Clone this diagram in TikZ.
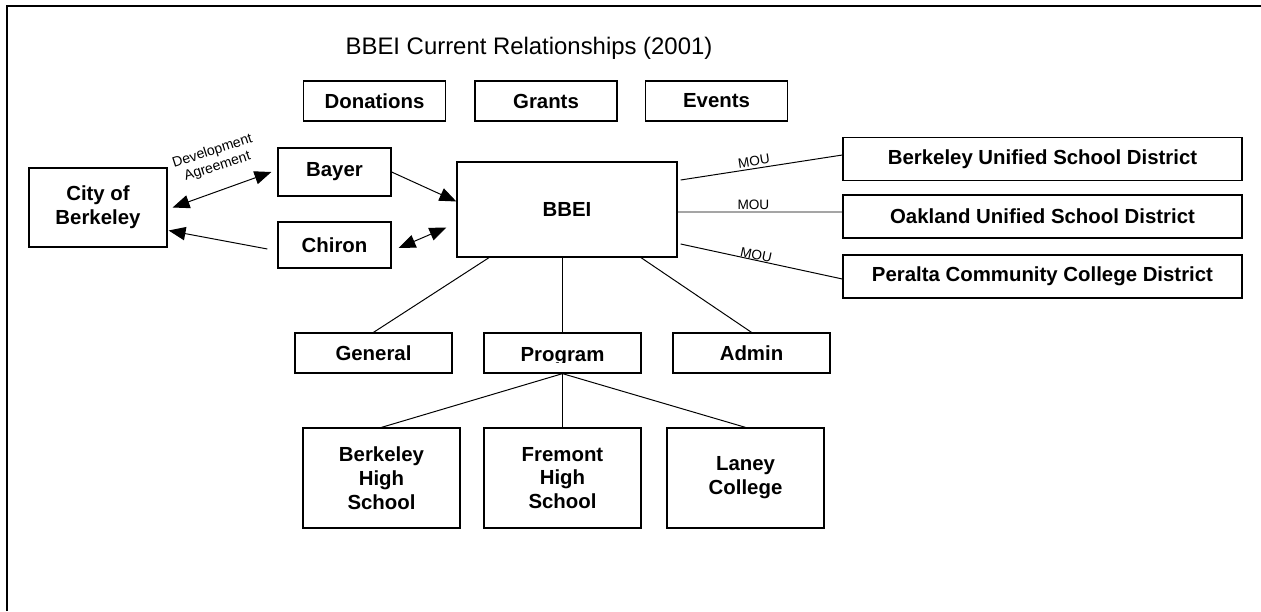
\documentclass[tikz,border=0pt]{standalone}
\usepackage{fontspec}
\setmainfont{Liberation Sans}
\usetikzlibrary{arrows.meta,calc}
\tikzset{
  bx/.style 2 args={draw, line width=0.9pt, inner sep=0pt, align=center,
    minimum width=#1*0.025cm, minimum height=#2*0.025cm,
    font=\bfseries\fontsize{14.5}{17}\selectfont},
  lbl/.style={inner sep=1.5pt, align=center, font=\fontsize{9.7}{10}\selectfont},
  link/.style={line width=0.7pt},
  arr/.style={link, -{Triangle[length=12pt,width=9.5pt]}},
  darr/.style={link, {Triangle[length=12pt,width=9.5pt]}-{Triangle[length=12pt,width=9.5pt]}},
}
\begin{document}
\begin{tikzpicture}[x=0.025cm, y=-0.025cm]
  \useasboundingbox (0,0) rectangle (1261,611);
  \draw[line width=2pt] (7,611) -- (7,6) -- (1261,6);
  \node[font=\fontsize{17}{20}\selectfont] (title) at (529,48) {BBEI Current Relationships (2001)};
  \foreach \name/\x/\txt in {donations/374.5/Donations, grants/546/Grants, events/716.5/Events}
    \node[bx={142}{40}] (\name) at (\x,101) {\txt};

  \node[bx={138}{79}] (city) at (98,207.5) {City of\\Berkeley};
  \node[bx={113}{48}] (bayer) at (334.5,172) {Bayer};
  \node[bx={113}{46}] (chiron) at (334.5,245) {Chiron};
  \node[bx={220}{95}] (bbei) at (567,209.5) {BBEI};
  \foreach \name/\y/\txt in {busd/159/Berkeley Unified School District,
      ousd/216.5/Oakland Unified School District,
      pccd/276.5/Peralta Community College District}
    \node[bx={399}{43}] (\name) at (1042.5,\y) {\txt};

  \node[bx={157}{40}] (general) at (373.5,353) {General};
  \node[bx={157}{40}] (program) at (562.5,353) {};
  \node[bx={157}{40}] (admin) at (751.5,353) {Admin};
  % text of the program box is cut just under its baseline
  \begin{scope}
    \clip ([shift={(1pt,-1pt)}]program.north west) rectangle ([yshift=7.8pt]program.south east);
    \node[bx={157}{40}, draw=none, text depth=0pt] at ($(program)+(0,1.5)$) {Program};
  \end{scope}
  \node[bx={157}{100}] (bhs) at (381.5,478) {Berkeley\\High\\School};
  \node[bx={157}{100}] (fhs) at (562.5,478) {Fremont\\High\\School};
  \node[bx={157}{100}] (laney) at (745.5,478) {Laney\\College};

  \draw[arr] (bayer.east) -- ($(bbei.west)+(0,-8)$);
  \draw[darr] ($(city.east)+(5,0)$) -- ($(bayer.west)+(-6,0)$);
  \node[lbl, rotate=18, font=\fontsize{10}{11.5}\selectfont] (devagr) at (215,159) {Development\\Agreement};
  \draw[arr] ($(chiron.west)+(-10,4)$) -- ($(city.east)+(1,23)$);
  \draw[darr] ($(chiron.east)+(7,3)$) -- ($(bbei.west)+(-10,18)$);

  \draw[link] ($(bbei.east)+(3,-29.5)$) -- ($(busd.west)+(0,-4)$) node[lbl, pos=.46, above, sloped] {MOU};
  \draw[link] ($(bbei.east)+(0,2.5)$) -- ($(ousd.west)+(0,-4.5)$) node[lbl, pos=.46, above] {MOU};
  \draw[link] ($(bbei.east)+(3,34.5)$) -- ($(pccd.west)+(0,2.5)$) node[lbl, pos=.46, above, sloped, inner sep=0pt] {MOU};

  \draw[link] ($(bbei.south)+(-78,0)$) -- (general.north);
  \draw[link] (program.north |- bbei.south) -- (program.north);
  \draw[link] ($(bbei.south)+(74,0)$) -- (admin.north);
  \foreach \n in {bhs, fhs, laney}
    \draw[link] (program.south) -- (\n.north);
\end{tikzpicture}
\end{document}
